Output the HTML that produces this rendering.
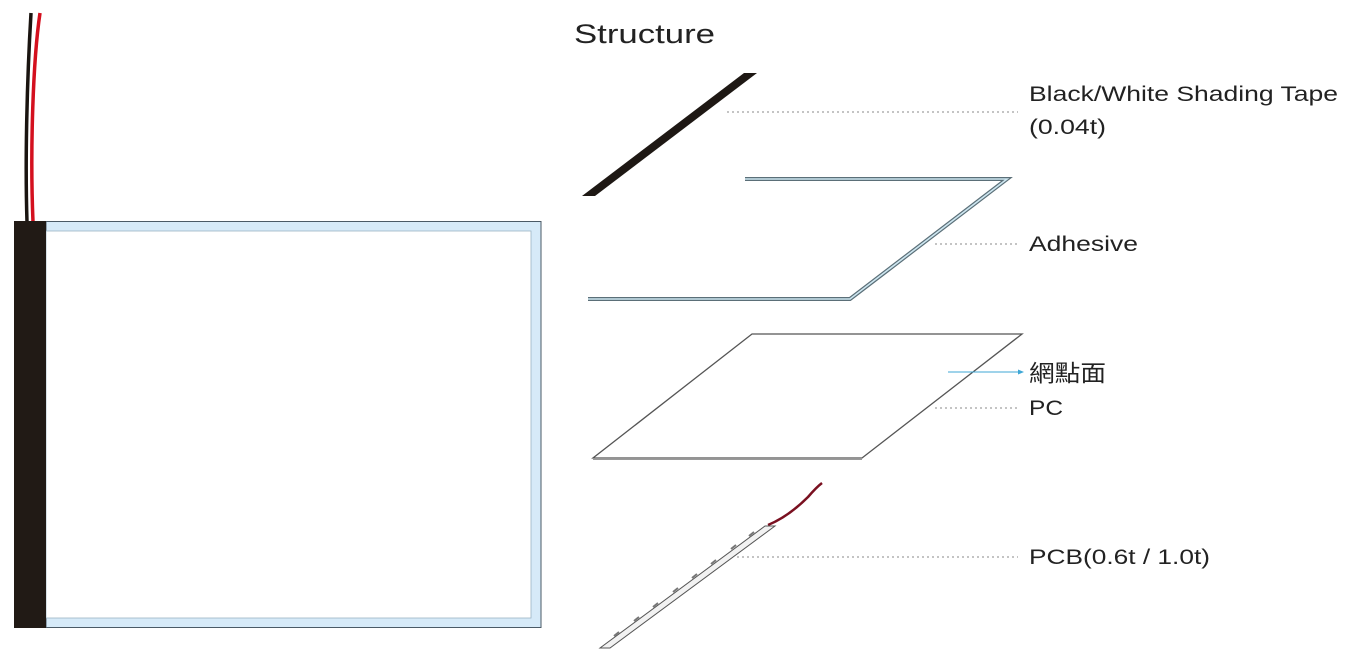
<!DOCTYPE html>
<html><head><meta charset="utf-8"><style>
html,body{margin:0;padding:0;background:#fff;}
svg{display:block}
text{font-family:"Liberation Sans","Noto Sans CJK TC",sans-serif;fill:#222;}
</style></head><body>
<svg width="1352" height="660" viewBox="0 0 1352 660" xmlns="http://www.w3.org/2000/svg">
<!-- left panel -->
<path d="M31,13 C27,80 25,160 27,222" stroke="#1a1410" stroke-width="3.5" fill="none"/>
<path d="M40,13 C33,60 30,150 33,222" stroke="#d4101e" stroke-width="3.5" fill="none"/>
<rect x="46" y="221.5" width="495" height="406" fill="#d6eaf8" stroke="#4a5a66" stroke-width="1"/>
<rect x="46" y="231" width="485" height="387" fill="#fff" stroke="#9cb4c4" stroke-width="0.8"/>
<rect x="14" y="221" width="32" height="407" fill="#211a15"/>
<!-- title -->
<text x="574" y="43" font-size="27" textLength="141" lengthAdjust="spacingAndGlyphs">Structure</text>
<!-- tape -->
<polygon points="582,196 595,196 757,73 744,73" fill="#1e1814"/>
<line x1="727" y1="112" x2="1018" y2="112" stroke="#888" stroke-width="1" stroke-dasharray="2,3"/>
<text x="1029" y="101" font-size="21" textLength="309" lengthAdjust="spacingAndGlyphs">Black/White Shading Tape</text>
<text x="1029" y="134" font-size="21" textLength="77" lengthAdjust="spacingAndGlyphs">(0.04t)</text>
<!-- adhesive -->
<polyline points="745,179 1007,179 850,299 588,299" fill="none" stroke="#5b6f78" stroke-width="4"/>
<polyline points="745,179 1007,179 850,299 588,299" fill="none" stroke="#cde6f0" stroke-width="1.6"/>
<line x1="935" y1="244" x2="1018" y2="244" stroke="#888" stroke-width="1" stroke-dasharray="2,3"/>
<text x="1029" y="251" font-size="21" textLength="109" lengthAdjust="spacingAndGlyphs">Adhesive</text>
<!-- PC -->
<polygon points="752,334 1022,334 862,458 593,458" fill="#fff" stroke="#555" stroke-width="1.3"/>
<line x1="593" y1="459.5" x2="862" y2="459.5" stroke="#999" stroke-width="1"/>
<line x1="948" y1="372" x2="1020" y2="372" stroke="#3fa7d6" stroke-width="1"/>
<polygon points="1024,372 1018,369.5 1018,374.5" fill="#3fa7d6"/>
<text x="1029" y="381" font-size="23" textLength="77" lengthAdjust="spacingAndGlyphs">網點面</text>
<line x1="935" y1="408" x2="1018" y2="408" stroke="#888" stroke-width="1" stroke-dasharray="2,3"/>
<text x="1029" y="415" font-size="21" textLength="34" lengthAdjust="spacingAndGlyphs">PC</text>
<!-- PCB -->
<path d="M768,525 C785,518 800,505 808,497 C814,490 818,486 822,483" stroke="#7a1020" stroke-width="2.5" fill="none"/>
<polygon points="600,648 610,648 775,526 765,526" fill="#f2f2f2" stroke="#555" stroke-width="1"/>
<g stroke="#777" stroke-width="2">
<line x1="614" y1="636" x2="619" y2="632"/>
<line x1="634" y1="621" x2="639" y2="617"/>
<line x1="653" y1="607" x2="658" y2="603"/>
<line x1="673" y1="592" x2="678" y2="588"/>
<line x1="692" y1="578" x2="697" y2="574"/>
<line x1="711" y1="564" x2="716" y2="560"/>
<line x1="731" y1="549" x2="736" y2="545"/>
<line x1="749" y1="536" x2="754" y2="532"/>
</g>
<line x1="737" y1="557" x2="1018" y2="557" stroke="#888" stroke-width="1" stroke-dasharray="2,3"/>
<text x="1029" y="564" font-size="21" textLength="181" lengthAdjust="spacingAndGlyphs">PCB(0.6t / 1.0t)</text>
</svg>
</body></html>
